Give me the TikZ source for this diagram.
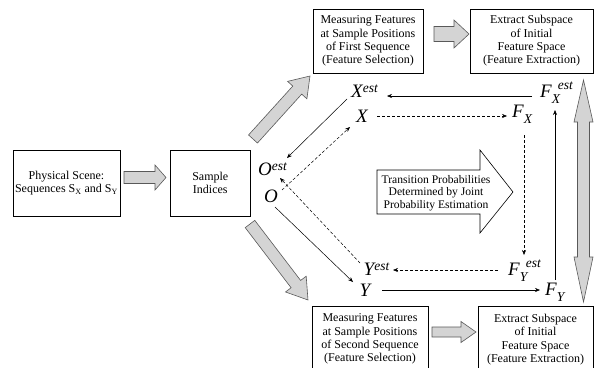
\documentclass[tikz,border=0pt]{standalone}
\usepackage{fontspec}
\setmainfont{Liberation Serif}
\usetikzlibrary{arrows.meta,calc}

\newcommand\boxfont{\fontsize{12}{13.3}\selectfont}
\newcommand\bigit{\fontsize{19}{19}\selectfont\itshape}
\newcommand\smit{\fontsize{13.5}{13.5}\selectfont\itshape}
\newcommand\vsup[2]{#1\rlap{\raisebox{5pt}{\smit #2}}}
\newcommand\vsub[2]{#1\rlap{\raisebox{-6pt}{\smit #2}}}
\newcommand\vsubsup[3]{#1\rlap{\raisebox{-6pt}{\smit #2}}\rlap{\hspace{6pt}\raisebox{8pt}{\smit #3}}}

\newcommand\garrow[7]{%
  \pgfmathsetmacro\gaang{atan2(-(#4)+(#2),(#3)-(#1))}%
  \pgfmathsetmacro\galen{veclen((#3)-(#1),(#4)-(#2))}%
  \pgfmathsetmacro\gab{\galen-(#7)}%
  \begin{scope}[shift={(#1,#2)},rotate=\gaang]
    \draw[gbar] (0,#5)--(\gab,#5)--(\gab,#6)--(\galen,0)--(\gab,-#6)--(\gab,-#5)--(0,-#5)--cycle;
  \end{scope}}

\tikzset{
  box/.style={draw, line width=0.6pt, fill=white, align=center, font=\boxfont, inner sep=0pt},
  var/.style={inner sep=0pt, text height=12.5pt, text depth=0pt, font=\bigit},
  gbar/.style={draw=black!65, fill=black!17, line width=0.6pt},
  conn/.style={line width=0.5pt, -{Stealth[length=5pt,width=4pt]}},
  dsh/.style={dash pattern=on 3pt off 2pt},
}

\begin{document}
\begin{tikzpicture}[x=1pt,y=-1pt]
\useasboundingbox (0,0) rectangle (594,367);
\clip (0,0) rectangle (594,367);

% boxes
\node[box, minimum width=107pt, minimum height=66pt] (phys) at (66.5,183) {Physical Scene:\\Sequences S\textsubscript{X} and S\textsubscript{Y}};
\node[box, minimum width=80pt, minimum height=66pt] (samp) at (210.25,183) {Sample\\Indices};
\node[box, minimum width=110pt, minimum height=64pt] (meas1) at (368,41) {Measuring Features\\at Sample Positions\\of First Sequence\\(Feature Selection)};
\node[box, minimum width=123pt, minimum height=64pt] (ext1) at (531.5,41) {Extract Subspace\\of Initial\\Feature Space\\(Feature Extraction)};
\node[box, minimum width=116pt, minimum height=66pt] (meas2) at (370,339) {Measuring Features\\at Sample Positions\\of Second Sequence\\(Feature Selection)};
\node[box, minimum width=115pt, minimum height=66pt] (ext2) at (535.5,339.5) {Extract Subspace\\of Initial\\Feature Space\\(Feature Extraction)};

% transition arrow
\draw[line width=0.6pt, fill=white] (377,170)--(480,170)--(480,150)--(513,192)--(480,233)--(480,214)--(377,214)--cycle;
\node[align=center, font=\fontsize{11.6}{12.6}\selectfont, inner sep=0pt] (trans) at (436,193) {Transition Probabilities\\Determined by Joint\\Probability Estimation};

% gray arrows
\garrow{124}{177.5}{166}{177.5}{6}{12.5}{11}
\garrow{253}{139}{310}{76}{6}{13}{19}
\garrow{250}{224}{308}{300}{6}{13}{20}
\garrow{434}{34}{469}{34}{7.5}{14}{15}
\garrow{432}{332}{476}{332}{5}{10.5}{15}
\draw[gbar] (583.5,80)--(593,122)--(589.5,122)--(589.5,257)--(593,257)--(583.5,302)--(574,257)--(577.5,257)--(577.5,122)--(574,122)--cycle;

% variables
\node[var] (Xest) at (357,91) {\vsup{X}{est}};
\node[var] (X) at (362,116) {X};
\node[var] (FXest) at (546,91) {\vsubsup{F}{X}{est}};
\node[var] (FX) at (518,111) {\vsub{F}{X}};
\node[var] (FYest) at (514,269) {\vsubsup{F}{Y}{est}};
\node[var] (FY) at (551,289) {\vsub{F}{Y}};
\node[var] (Yest) at (369,269) {\vsup{Y}{est}};
\node[var] (Y) at (365,290) {Y};
\node[var] (Oest) at (265,169) {\vsup{O}{est}};
\node[var] (O) at (271,196) {O};

% connectors
\draw[conn] ($(FXest)+(-14,5)$) -- ($(Xest)+(30,5)$);
\draw[conn,dsh] ($(X)+(15,0)$) -- ($(FX)+(-11,5)$);
\draw[conn,dsh] ($(FX)+(6,24)$) -- ($(FYest)+(10,-14)$);
\draw[conn] ($(FY)+(4,-9)$) -- ($(FXest)+(9,19)$);
\draw[conn,dsh] ($(FYest)+(-16,1)$) -- ($(Yest)+(24,1)$);
\draw[conn] ($(Y)+(17,0)$) -- ($(FY)+(-11,1)$);
\draw[conn] ($(Xest)+(-10,8)$) -- ($(Oest)+(22,-11)$);
\draw[conn,dsh] ($(O)+(11,-6)$) -- ($(X)+(-12,11)$);
\draw[conn,dsh] ($(Yest)+(-9,-6)$) -- ($(Oest)+(15,9)$);
\draw[conn] ($(O)+(4,11)$) -- ($(Y)+(-12,-8)$);
\end{tikzpicture}
\end{document}
